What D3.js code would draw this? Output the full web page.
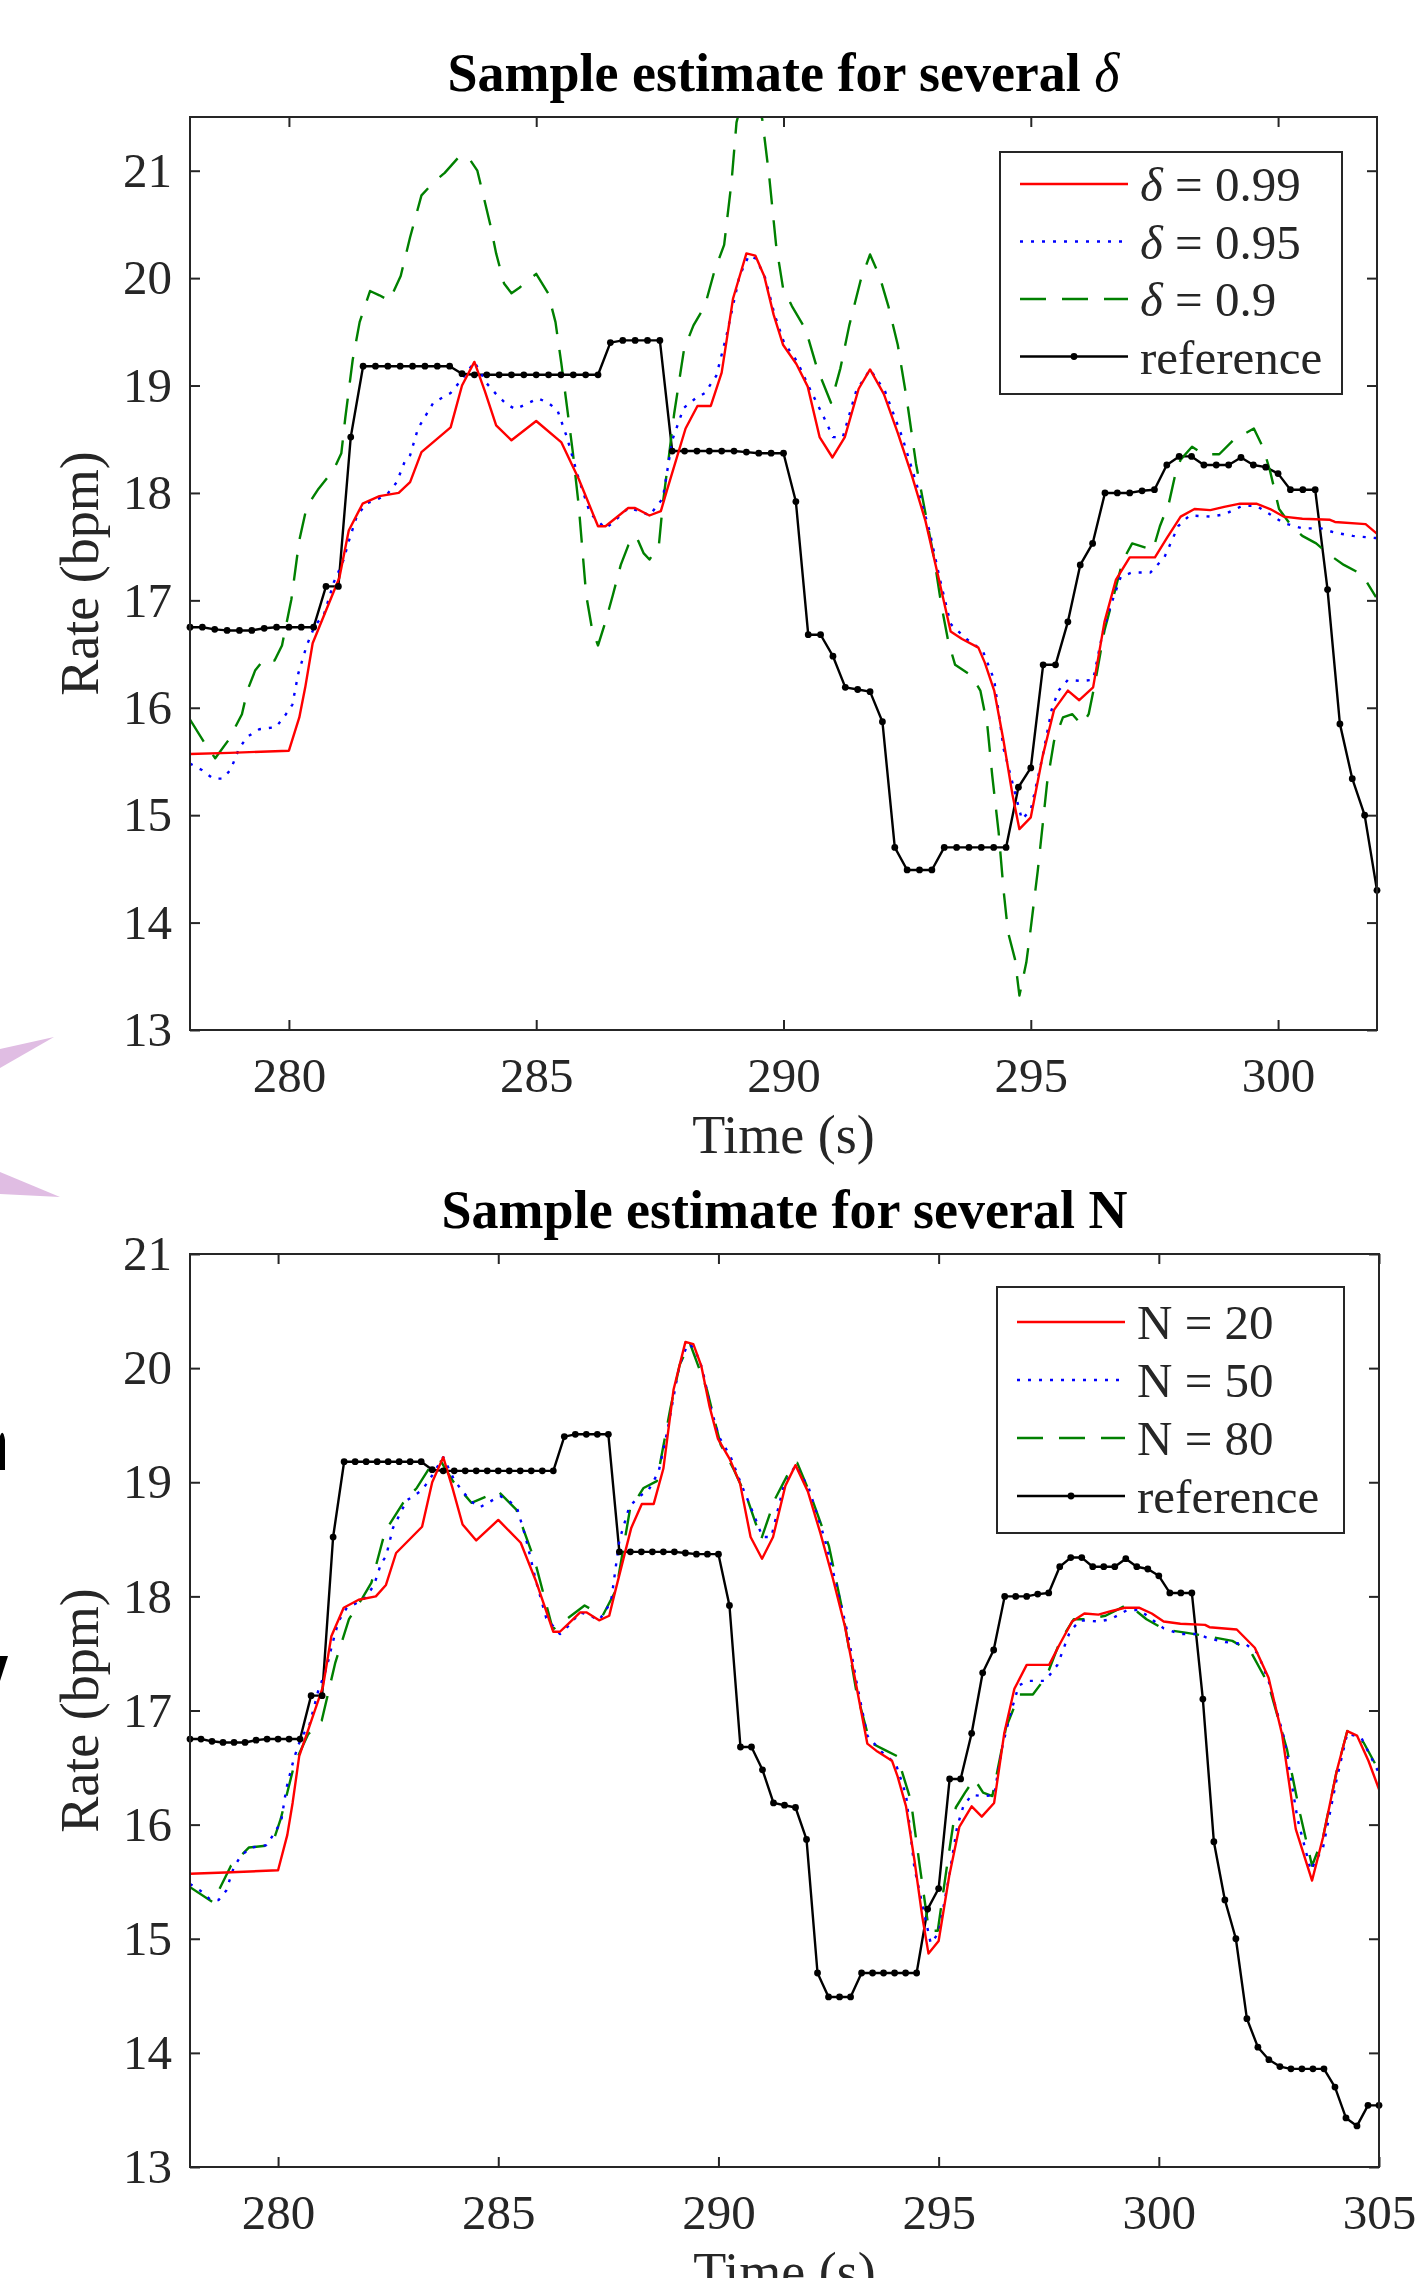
<!DOCTYPE html>
<html>
<head>
<meta charset="utf-8">
<script src="https://cdn.jsdelivr.net/npm/d3@7"></script>
<style>
  body { margin: 0; background: #fff; }
  svg { display: block; }
  text { font-family: "Liberation Serif", "Times New Roman", serif; fill: #262626; }
</style>
</head>
<body>
<div class="canvas"></div>
<script>
// ---------- DATA ----------

// reference rate, one sample every 0.25 s starting at 278 s
const refStart = 278, refStep = 0.25;
const refValues = [
  16.75, 16.75, 16.73, 16.72, 16.72, 16.72, 16.74, 16.75, 16.75, 16.75, 16.75, 17.13, 17.13,
  18.52, 19.18, 19.18, 19.18, 19.18, 19.18, 19.18, 19.18, 19.18, 19.11, 19.10, 19.10, 19.10,
  19.10, 19.10, 19.10, 19.10, 19.10, 19.10, 19.10, 19.10, 19.40, 19.42, 19.42, 19.42, 19.42,
  18.39, 18.39, 18.39, 18.39, 18.39, 18.39, 18.38, 18.37, 18.37, 18.37, 17.92, 16.68, 16.68,
  16.48, 16.19, 16.17, 16.15, 15.87, 14.70, 14.49, 14.49, 14.49, 14.70, 14.70, 14.70, 14.70,
  14.70, 14.70, 15.26, 15.44, 16.40, 16.40, 16.80, 17.33, 17.53, 18.00, 18.00, 18.00, 18.02,
  18.03, 18.26, 18.34, 18.34, 18.26, 18.26, 18.26, 18.33, 18.26, 18.24, 18.18, 18.03, 18.03,
  18.03, 17.10, 15.85, 15.34, 15.00, 14.30, 14.05, 13.94, 13.88, 13.86, 13.86, 13.86, 13.86,
  13.70, 13.43, 13.36, 13.54, 13.54
];
const refTimes = refValues.map((v, i) => refStart + i * refStep);

// delta = 0.99 (same curve as N = 20)
const redTimes = [
  278.00, 278.80, 280.00, 280.21, 280.33, 280.48, 281.02, 281.21, 281.49, 281.83, 282.22, 282.45,
  282.68, 283.27, 283.50, 283.75, 283.96, 284.19, 284.50, 285.00, 285.51, 285.86, 286.25, 286.40,
  286.59, 286.86, 287.00, 287.29, 287.52, 287.64, 288.02, 288.26, 288.53, 288.75, 288.98, 289.25,
  289.43, 289.61, 289.80, 289.99, 290.26, 290.49, 290.73, 290.99, 291.24, 291.52, 291.75, 292.03,
  292.31, 292.59, 292.87, 293.10, 293.38, 293.61, 293.94, 294.07, 294.26, 294.45, 294.63, 294.77,
  295.00, 295.24, 295.47, 295.75, 295.98, 296.26, 296.49, 296.72, 297.00, 297.51, 297.75, 298.03,
  298.31, 298.63, 298.91, 299.23, 299.56, 299.84, 300.11, 300.49, 301.05, 301.15, 301.77, 302.18,
  302.49, 302.80, 303.11, 303.48, 303.73, 304.04, 304.28, 304.50, 304.76, 305.00
];
const redValues = [
  15.57, 15.58, 15.60, 15.91, 16.19, 16.60, 17.21, 17.65, 17.90, 17.97, 18.00, 18.10,
  18.38, 18.61, 19.00, 19.22, 18.95, 18.63, 18.49, 18.67, 18.47, 18.13, 17.69, 17.69,
  17.76, 17.86, 17.86, 17.79, 17.83, 18.02, 18.60, 18.81, 18.81, 19.12, 19.81, 20.23,
  20.21, 20.02, 19.66, 19.38, 19.20, 18.99, 18.52, 18.33, 18.52, 18.97, 19.15, 18.92,
  18.56, 18.17, 17.74, 17.28, 16.71, 16.64, 16.56, 16.42, 16.16, 15.69, 15.19, 14.87,
  14.98, 15.55, 15.98, 16.16, 16.07, 16.19, 16.80, 17.19, 17.40, 17.40, 17.58, 17.78,
  17.85, 17.84, 17.87, 17.90, 17.90, 17.85, 17.78, 17.76, 17.75, 17.73, 17.71, 17.55,
  17.29, 16.79, 15.96, 15.51, 15.89, 16.47, 16.82, 16.78, 16.56, 16.31
];

// delta = 0.95 (the N = 50 curve lies on it)
const blueTimes = [
  278.00, 278.24, 278.47, 278.65, 278.82, 278.99, 279.16, 279.40, 279.74, 279.94, 280.07, 280.19,
  280.36, 280.52, 280.71, 280.91, 281.10, 281.21, 281.37, 281.56, 281.83, 281.99, 282.18, 282.34,
  282.45, 282.61, 282.92, 283.27, 283.50, 283.75, 284.00, 284.19, 284.39, 284.58, 284.81, 285.04,
  285.24, 285.43, 285.62, 285.86, 286.09, 286.40, 286.59, 286.86, 287.10, 287.29, 287.56, 287.75,
  287.98, 288.22, 288.41, 288.64, 288.84, 289.11, 289.30, 289.45, 289.63, 289.82, 290.01, 290.28,
  290.50, 290.82, 291.00, 291.20, 291.47, 291.75, 292.05, 292.40, 292.68, 292.95, 293.15, 293.38,
  293.70, 294.03, 294.26, 294.45, 294.63, 294.82, 295.00, 295.24, 295.42, 295.56, 295.75, 296.03,
  296.26, 296.45, 296.63, 296.82, 297.05, 297.42, 297.70, 297.98, 298.21, 298.63, 298.91, 299.28,
  299.56, 299.84, 300.11, 300.49, 300.87, 301.15, 301.51, 301.98, 302.25, 302.50, 302.85, 303.15,
  303.45, 303.73, 304.04, 304.28, 304.60, 305.00
];
const blueValues = [
  15.48, 15.42, 15.34, 15.34, 15.42, 15.62, 15.73, 15.80, 15.82, 15.94, 16.03, 16.32,
  16.58, 16.76, 16.87, 17.17, 17.37, 17.55, 17.78, 17.90, 17.95, 17.99, 18.10, 18.29,
  18.35, 18.60, 18.84, 18.93, 19.06, 19.22, 19.02, 18.92, 18.83, 18.78, 18.83, 18.88,
  18.84, 18.77, 18.52, 18.13, 17.81, 17.67, 17.74, 17.86, 17.83, 17.79, 17.95, 18.49,
  18.79, 18.88, 18.93, 19.09, 19.45, 20.02, 20.21, 20.18, 20.00, 19.66, 19.40, 19.22,
  19.00, 18.70, 18.52, 18.52, 18.95, 19.15, 18.95, 18.52, 18.10, 17.65, 17.22, 16.78,
  16.64, 16.53, 16.26, 15.62, 15.30, 14.96, 15.05, 15.55, 15.98, 16.16, 16.26, 16.25,
  16.26, 16.69, 16.97, 17.22, 17.26, 17.26, 17.40, 17.69, 17.79, 17.78, 17.80, 17.88,
  17.88, 17.80, 17.72, 17.67, 17.67, 17.63, 17.60, 17.58, 17.50, 17.25, 16.75, 16.05,
  15.60, 15.80, 16.40, 16.80, 16.76, 16.45
];

// delta = 0.9
const greenTimes = [
  278.00, 278.31, 278.51, 278.78, 279.05, 279.16, 279.32, 279.51, 279.71, 279.86, 280.05, 280.21,
  280.36, 280.60, 280.91, 281.06, 281.14, 281.29, 281.43, 281.64, 281.83, 282.03, 282.26, 282.45,
  282.68, 282.92, 283.15, 283.46, 283.65, 283.81, 283.92, 284.08, 284.19, 284.35, 284.50, 284.66,
  285.00, 285.24, 285.39, 285.51, 285.62, 285.74, 285.86, 286.01, 286.13, 286.25, 286.40, 286.55,
  286.71, 286.86, 287.02, 287.17, 287.29, 287.48, 287.56, 287.68, 287.79, 287.99, 288.18, 288.41,
  288.60, 288.80, 288.95, 289.05, 289.30, 289.57, 289.71, 289.85, 289.99, 290.17, 290.45, 290.68,
  290.96, 291.15, 291.33, 291.56, 291.75, 291.94, 292.12, 292.31, 292.49, 292.68, 292.87, 293.05,
  293.19, 293.33, 293.47, 293.80, 293.98, 294.12, 294.22, 294.35, 294.45, 294.54, 294.68, 294.77,
  294.91, 295.00, 295.14, 295.24, 295.33, 295.47, 295.65, 295.84, 296.03, 296.17, 296.31, 296.49,
  296.68, 296.86, 297.05, 297.47, 297.61, 297.79, 297.93, 298.03, 298.26, 298.49, 298.81, 299.09,
  299.51, 299.70, 299.84, 300.02, 300.26, 300.49, 300.77, 301.05, 301.33, 301.70, 301.98
];
const greenValues = [
  15.89, 15.66, 15.53, 15.70, 15.94, 16.16, 16.35, 16.46, 16.44, 16.58, 17.01, 17.56,
  17.87, 18.04, 18.22, 18.37, 18.70, 19.24, 19.59, 19.88, 19.84, 19.79, 20.02, 20.38,
  20.77, 20.89, 20.98, 21.14, 21.11, 21.00, 20.79, 20.48, 20.23, 19.95, 19.86, 19.91,
  20.04, 19.86, 19.59, 19.20, 18.81, 18.38, 17.88, 17.05, 16.73, 16.58, 16.80, 17.05,
  17.33, 17.51, 17.60, 17.44, 17.38, 17.51, 17.90, 18.33, 18.74, 19.34, 19.56, 19.74,
  20.06, 20.31, 20.90, 21.45, 21.90, 21.48, 20.95, 20.31, 19.91, 19.74, 19.52, 19.16,
  18.84, 19.16, 19.56, 19.98, 20.22, 20.02, 19.74, 19.38, 18.88, 18.27, 17.81, 17.38,
  16.96, 16.62, 16.40, 16.30, 16.16, 15.84, 15.37, 14.84, 14.30, 13.91, 13.66, 13.32,
  13.63, 13.95, 14.48, 14.91, 15.30, 15.69, 15.91, 15.94, 15.84, 15.94, 16.26, 16.72,
  17.05, 17.37, 17.53, 17.47, 17.69, 17.90, 18.19, 18.31, 18.43, 18.36, 18.36, 18.49,
  18.60, 18.42, 18.20, 17.85, 17.70, 17.60, 17.53, 17.42, 17.33, 17.24, 17.03
];

// N = 80
const n80Times = [
  278.01, 278.52, 278.93, 279.34, 279.86, 280.06, 280.37, 280.68, 280.99, 281.30, 281.61, 281.92,
  282.12, 282.43, 282.84, 283.15, 283.46, 283.67, 283.97, 284.39, 285.00, 285.41, 285.83, 286.24,
  286.55, 286.96, 287.37, 287.68, 287.99, 288.30, 288.60, 288.91, 289.12, 289.35, 289.74, 290.05,
  290.35, 290.66, 290.97, 291.28, 291.59, 291.79, 292.10, 292.51, 292.82, 293.13, 293.44, 293.75,
  294.06, 294.37, 294.57, 294.78, 294.98, 295.19, 295.39, 295.60, 295.81, 296.01, 296.22, 296.53,
  296.83, 297.14, 297.45, 297.76, 298.07, 298.38, 298.79, 299.30, 299.72, 300.13, 300.64, 301.26,
  301.67, 302.08, 302.49, 302.91, 303.21, 303.48, 303.73, 304.04, 304.28, 304.65, 304.96
];
const n80Values = [
  15.45, 15.32, 15.64, 15.80, 15.82, 16.05, 16.53, 16.79, 16.91, 17.42, 17.80, 17.99,
  18.12, 18.57, 18.82, 18.95, 19.14, 19.20, 19.01, 18.82, 18.92, 18.76, 18.31, 17.71,
  17.80, 17.92, 17.83, 18.06, 18.76, 18.95, 19.01, 19.65, 20.03, 20.22, 19.81, 19.33,
  19.11, 18.85, 18.50, 18.85, 19.08, 19.17, 18.88, 18.44, 17.87, 17.17, 16.72, 16.66,
  16.60, 16.21, 15.64, 15.07, 15.07, 15.64, 16.15, 16.28, 16.40, 16.28, 16.25, 16.85,
  17.14, 17.14, 17.30, 17.61, 17.80, 17.80, 17.83, 17.93, 17.80, 17.71, 17.68, 17.64,
  17.61, 17.52, 17.23, 16.66, 16.09, 15.64, 15.89, 16.47, 16.82, 16.72, 16.50
];

const yTicks = [13, 14, 15, 16, 17, 18, 19, 20, 21];
const xTicksTop = [280, 285, 290, 295, 300];
const xTicksBottom = [280, 285, 290, 295, 300, 305];
const deltaLabels = ['0.99', '0.95', '0.9'];
const nLabels = ['20', '50', '80'];

// ---------- STYLES ----------
const axisColor = '#262626';
const styles = {
  red:   {color: '#ff0000', dash: null},
  blue:  {color: '#0000ff', dash: '3,8'},
  green: {color: '#008000', dash: '26,16'},
  ref:   {color: '#000000', dash: null}
};

const svg = d3.select('.canvas')
  .append('svg')
    .attr('width', 1421)
    .attr('height', 2278);

// stray bits of the slide around the figure
svg.append('path').attr('d', 'M0,1049 L54,1037 L0,1068 Z').attr('fill', '#e0bde3');
svg.append('path').attr('d', 'M0,1172 L60,1197 L0,1194 Z').attr('fill', '#e0bde3');
svg.append('path').attr('d', 'M0,1436 Q3,1428 5,1440 L5,1470 L0,1470 Z').attr('fill', '#000');
svg.append('path').attr('d', 'M0,1656 L8,1656 L0,1681 Z').attr('fill', '#000');

function drawPanel(cfg) {
  const w = cfg.right - cfg.left;
  const h = cfg.bottom - cfg.top;
  const x = d3.scaleLinear().domain(cfg.xDomain).range([0, w]);
  const y = d3.scaleLinear().domain(cfg.yDomain).range([h, 0]);

  const g = svg.append('g').attr('transform', `translate(${cfg.left},${cfg.top})`);

  g.append('clipPath').attr('id', cfg.id)
    .append('rect').attr('width', w).attr('height', h);

  // axes with inward ticks on all four sides
  const axes = [
    {axis: d3.axisBottom(x).tickValues(cfg.xTicks).tickPadding(27), at: `translate(0,${h})`, labels: true},
    {axis: d3.axisTop(x).tickValues(cfg.xTicks), at: 'translate(0,0)', labels: false},
    {axis: d3.axisLeft(y).tickValues(yTicks).tickPadding(18), at: 'translate(0,0)', labels: true},
    {axis: d3.axisRight(y).tickValues(yTicks), at: `translate(${w},0)`, labels: false}
  ];
  axes.forEach(a => {
    const ag = g.append('g')
      .attr('transform', a.at)
      .call(a.axis.tickSizeInner(-10).tickSizeOuter(0));
    ag.attr('font-family', null).attr('font-size', 49).attr('color', axisColor);
    ag.select('.domain').remove();
    ag.selectAll('.tick line').attr('stroke-width', 2);
    if (!a.labels) ag.selectAll('.tick text').remove();
  });

  // series lines
  const line = d3.line().x(d => x(d[0])).y(d => y(d[1]));
  const plot = g.append('g').attr('clip-path', `url(#${cfg.id})`);
  cfg.series.forEach(s => {
    plot.append('path')
      .datum(d3.zip(s.times, s.values))
      .attr('fill', 'none')
      .attr('stroke', styles[s.style].color)
      .attr('stroke-width', 2.4)
      .attr('stroke-dasharray', styles[s.style].dash)
      .attr('stroke-linejoin', 'round')
      .attr('d', line);
  });

  // reference markers
  const refPts = d3.zip(refTimes, refValues).filter(d => d[0] <= cfg.xDomain[1] + 1e-9);
  g.append('g').selectAll('circle')
    .data(refPts)
    .enter().append('circle')
      .attr('cx', d => x(d[0]))
      .attr('cy', d => y(d[1]))
      .attr('r', 3.4)
      .attr('fill', '#000');

  // box
  g.append('rect')
    .attr('width', w).attr('height', h)
    .attr('fill', 'none').attr('stroke', axisColor).attr('stroke-width', 2);

  // title
  const title = svg.append('text')
    .attr('x', cfg.left + w / 2).attr('y', cfg.titleY)
    .attr('text-anchor', 'middle')
    .attr('font-size', 54).attr('font-weight', 'bold')
    .style('fill', '#000');
  title.append('tspan').text('Sample estimate for several ');
  if (cfg.titleItalic) {
    title.append('tspan').attr('font-style', 'italic').attr('font-weight', 'normal').text(cfg.titleSym);
  } else {
    title.append('tspan').text(cfg.titleSym);
  }

  // axis labels
  svg.append('text')
    .attr('x', cfg.left + w / 2).attr('y', cfg.bottom + 123)
    .attr('text-anchor', 'middle').attr('font-size', 54)
    .text('Time (s)');
  svg.append('text')
    .attr('transform', `translate(98,${cfg.top + h / 2}) rotate(-90)`)
    .attr('text-anchor', 'middle').attr('font-size', 54)
    .text('Rate (bpm)');

  // legend
  const L = cfg.legend;
  const lg = svg.append('g').attr('transform', `translate(${L.x},${L.y})`);
  lg.append('rect')
    .attr('width', L.w).attr('height', L.h)
    .attr('fill', '#fff').attr('stroke', axisColor).attr('stroke-width', 2);
  L.items.forEach((it, i) => {
    const ry = L.first + i * L.step;
    lg.append('line')
      .attr('x1', 20).attr('x2', 128).attr('y1', ry).attr('y2', ry)
      .attr('stroke', styles[it.style].color)
      .attr('stroke-width', 2.4)
      .attr('stroke-dasharray', styles[it.style].dash);
    if (it.style === 'ref') {
      lg.append('circle').attr('cx', 74).attr('cy', ry).attr('r', 3.4).attr('fill', '#000');
    }
    const t = lg.append('text')
      .attr('x', 140).attr('y', ry).attr('dy', '0.35em')
      .attr('font-size', 49);
    if (it.sym) {
      t.append('tspan').attr('font-style', it.italic ? 'italic' : null).text(it.sym);
      t.append('tspan').text(' = ' + it.value);
    } else {
      t.text(it.value);
    }
  });
}

drawPanel({
  id: 'clipTop',
  left: 190, right: 1377, top: 117, bottom: 1030,
  xDomain: [278, 302], yDomain: [13, 21.5],
  xTicks: xTicksTop,
  titleY: 91, titleSym: 'δ', titleItalic: true,
  series: [
    {times: refTimes, values: refValues, style: 'ref'},
    {times: greenTimes, values: greenValues, style: 'green'},
    {times: blueTimes, values: blueValues, style: 'blue'},
    {times: redTimes, values: redValues, style: 'red'}
  ],
  legend: {
    x: 1000, y: 152, w: 342, h: 242, first: 32, step: 57.5,
    items: [
      {style: 'red', sym: 'δ', italic: true, value: deltaLabels[0]},
      {style: 'blue', sym: 'δ', italic: true, value: deltaLabels[1]},
      {style: 'green', sym: 'δ', italic: true, value: deltaLabels[2]},
      {style: 'ref', value: 'reference'}
    ]
  }
});

drawPanel({
  id: 'clipBottom',
  left: 190, right: 1379, top: 1254, bottom: 2167,
  xDomain: [278, 305], yDomain: [13, 21],
  xTicks: xTicksBottom,
  titleY: 1228, titleSym: 'N', titleItalic: false,
  series: [
    {times: refTimes, values: refValues, style: 'ref'},
    {times: n80Times, values: n80Values, style: 'green'},
    {times: blueTimes, values: blueValues, style: 'blue'},
    {times: redTimes, values: redValues, style: 'red'}
  ],
  legend: {
    x: 997, y: 1287, w: 347, h: 246, first: 35, step: 58,
    items: [
      {style: 'red', sym: 'N', value: nLabels[0]},
      {style: 'blue', sym: 'N', value: nLabels[1]},
      {style: 'green', sym: 'N', value: nLabels[2]},
      {style: 'ref', value: 'reference'}
    ]
  }
});
</script>
</body>
</html>
